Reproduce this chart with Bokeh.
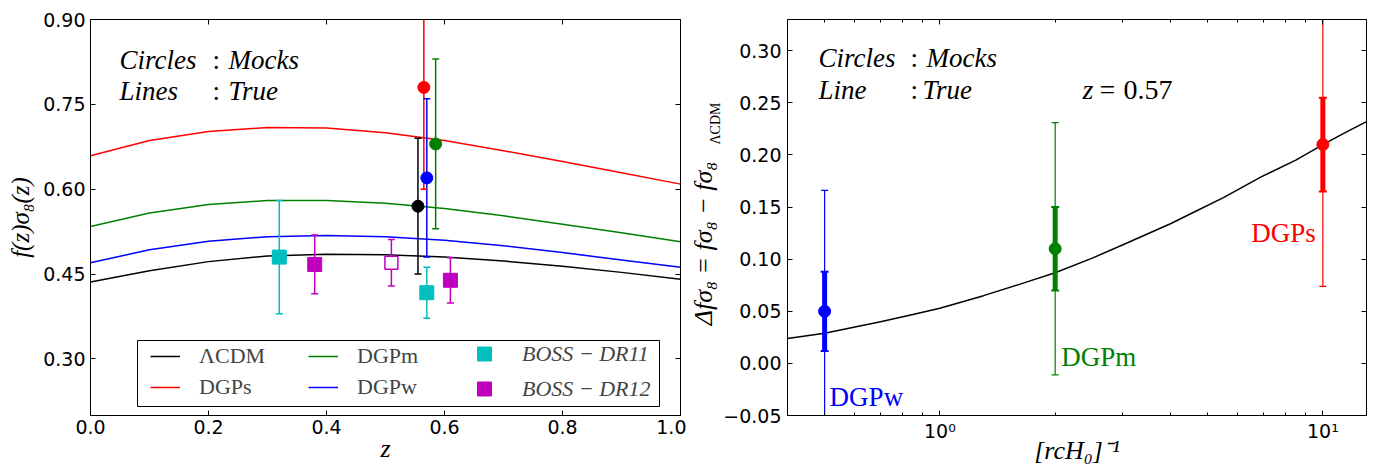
import math
from bokeh.plotting import figure
from bokeh.models import (Range1d, FixedTicker, CustomJSTickFormatter, LinearAxis, LogAxis,
                          Label, Legend, LegendItem, BoxAnnotation, Title)
from bokeh.layouts import row
from bokeh.embed import file_html
from bokeh.resources import INLINE

# ---------------- data: left panel ----------------
z_grid = [0.0, 0.1, 0.2, 0.3, 0.4, 0.5, 0.6, 0.7, 0.8, 0.9, 1.0]
fs8_lcdm = [0.436, 0.456, 0.472, 0.482, 0.485, 0.484, 0.480, 0.473, 0.464, 0.453, 0.441]
fs8_dgps = [0.659, 0.686, 0.702, 0.709, 0.708, 0.700, 0.686, 0.668, 0.649, 0.629, 0.609]
fs8_dgpm = [0.534, 0.558, 0.573, 0.580, 0.580, 0.575, 0.566, 0.553, 0.538, 0.523, 0.507]
fs8_dgpw = [0.470, 0.493, 0.508, 0.516, 0.518, 0.516, 0.510, 0.500, 0.488, 0.475, 0.462]

mock_names = ["ΛCDM", "DGPs", "DGPw", "DGPm"]
mock_z = [0.555, 0.565, 0.570, 0.585]
mock_fs8 = [0.57, 0.78, 0.62, 0.68]
mock_err = [0.12, 0.18, 0.14, 0.15]

dr11_z = [0.32, 0.57]
dr11_fs8 = [0.480, 0.417]
dr11_err = [0.100, 0.045]

dr12_z = [0.38, 0.51, 0.61]
dr12_fs8 = [0.467, 0.470, 0.439]
dr12_err = [0.052, 0.041, 0.040]
dr12_open = [False, True, False]

x1_ticks = [0.0, 0.2, 0.4, 0.6, 0.8, 1.0]
y1_ticks = [0.30, 0.45, 0.60, 0.75, 0.90]

# ---------------- data: right panel ----------------
rc_inv = [0.5, 2.0, 10.0]
dfs8 = [0.05, 0.11, 0.21]
dfs8_err_wide = [0.116, 0.121, 0.136]
dfs8_err_narrow = [0.038, 0.040, 0.045]
model_names = ["DGPw", "DGPm", "DGPs"]

curve_x = [0.4, 0.5, 0.6, 0.7, 0.85, 1.0, 1.3, 1.65, 2.0, 2.5, 3.1, 4.0, 4.6, 5.5, 6.9, 8.5,
           10.0, 11.5, 13.0]
curve_y = [0.024, 0.029, 0.035, 0.040, 0.047, 0.053, 0.065, 0.077, 0.087, 0.101, 0.116, 0.134,
           0.145, 0.159, 0.179, 0.195, 0.210, 0.222, 0.232]

x2_major = [1.0, 10.0]
x2_minor = [0.4, 0.5, 0.6, 0.7, 0.8, 0.9, 2, 3, 4, 5, 6, 7, 8, 9]
y2_ticks = [-0.05, 0.0, 0.05, 0.10, 0.15, 0.20, 0.25, 0.30]

# ---------------- style ----------------
SERIF = "Liberation Serif"
SANS = "DejaVu Sans"
TICK = "19px"
BLACK, RED, GREEN, BLUE = "#000000", "#FF0000", "#008000", "#0000FF"
CYAN, MAG = "#00BFBF", "#BF00BF"
mock_colors = [BLACK, RED, BLUE, GREEN]
model_colors = [BLUE, GREEN, RED]


def fmt(decimals):
    return CustomJSTickFormatter(code="return tick.toFixed(%d).replace('-', '\\u2212');" % decimals)


def blank():
    return CustomJSTickFormatter(code="return '';")


def style_axis(ax, standoff):
    ax.major_tick_in = 5
    ax.major_tick_out = 0
    ax.minor_tick_in = 3
    ax.minor_tick_out = 0
    ax.axis_line_color = "black"
    ax.major_tick_line_color = "black"
    ax.major_label_text_font = SANS
    ax.major_label_text_font_size = TICK
    ax.major_label_text_color = "black"
    ax.major_label_standoff = standoff
    ax.axis_label_text_font = SERIF
    ax.axis_label_text_font_size = "26px"
    ax.axis_label_text_font_style = "italic"
    ax.axis_label_text_color = "black"


def lab(p, x, y, text, size="26px", style="italic", color="black", align="left"):
    p.add_layout(Label(x=x, y=y, x_units="screen", y_units="screen", text=text, text_font=SERIF,
                       text_font_size=size, text_font_style=style, text_color=color,
                       text_align=align, text_baseline="alphabetic"))


# ================= left figure =================
p1 = figure(width=686, height=472, x_range=Range1d(0, 1), y_range=Range1d(0.2, 0.9),
            output_backend="svg", toolbar_location=None,
            min_border_left=90, min_border_right=6, min_border_top=19, min_border_bottom=57)
p1.grid.visible = False
p1.outline_line_color = "black"
p1.outline_line_alpha = 1.0

xa = p1.xaxis[0]
xa.ticker = FixedTicker(ticks=x1_ticks)
xa.formatter = fmt(1)
style_axis(xa, 4)
xa.minor_tick_line_color = None
xa.axis_label = "z"
xa.axis_label_standoff = -3
ya = p1.yaxis[0]
ya.ticker = FixedTicker(ticks=y1_ticks)
ya.formatter = fmt(2)
style_axis(ya, 5)
ya.minor_tick_line_color = None
ya.axis_label = "f(z)σ₈(z)"
ya.axis_label_text_font_size = "25px"
ya.axis_label_standoff = 6

top1 = LinearAxis(ticker=FixedTicker(ticks=x1_ticks), formatter=blank())
style_axis(top1, 0)
top1.major_label_text_font_size = "0px"
top1.minor_tick_line_color = None
p1.add_layout(top1, "above")
right1 = LinearAxis(ticker=FixedTicker(ticks=y1_ticks), formatter=blank())
style_axis(right1, 0)
right1.major_label_text_font_size = "0px"
right1.minor_tick_line_color = None
p1.add_layout(right1, "right")

r_lcdm = p1.line(z_grid, fs8_lcdm, line_color=BLACK, line_width=1.5)
r_dgps = p1.line(z_grid, fs8_dgps, line_color=RED, line_width=1.5)
r_dgpm = p1.line(z_grid, fs8_dgpm, line_color=GREEN, line_width=1.5)
r_dgpw = p1.line(z_grid, fs8_dgpw, line_color=BLUE, line_width=1.5)

# BOSS error bars and squares
for zs, vals, errs, col in [(dr11_z, dr11_fs8, dr11_err, CYAN), (dr12_z, dr12_fs8, dr12_err, MAG)]:
    lo = [v - e for v, e in zip(vals, errs)]
    hi = [v + e for v, e in zip(vals, errs)]
    p1.segment(x0=zs, y0=lo, x1=zs, y1=hi, line_color=col, line_width=1.5)
    p1.scatter(x=zs + zs, y=lo + hi, marker="dash", size=7, line_color=col, line_width=1.5)

r_dr11 = p1.scatter(dr11_z, dr11_fs8, marker="square", size=14, fill_color=CYAN, line_color=CYAN)
dr12_fz = [z for z, o in zip(dr12_z, dr12_open) if not o]
dr12_fv = [v for v, o in zip(dr12_fs8, dr12_open) if not o]
dr12_oz = [z for z, o in zip(dr12_z, dr12_open) if o]
dr12_ov = [v for v, o in zip(dr12_fs8, dr12_open) if o]
r_dr12 = p1.scatter(dr12_fz, dr12_fv, marker="square", size=14, fill_color=MAG, line_color=MAG)
p1.scatter(dr12_oz, dr12_ov, marker="square", size=13, fill_color="white", line_color=MAG,
           line_width=1.5)

# mock points
m_lo = [v - e for v, e in zip(mock_fs8, mock_err)]
m_hi = [v + e for v, e in zip(mock_fs8, mock_err)]
p1.segment(x0=mock_z, y0=m_lo, x1=mock_z, y1=m_hi, line_color=mock_colors, line_width=1.5)
p1.scatter(x=mock_z + mock_z, y=m_lo + m_hi, marker="dash", size=7,
           line_color=mock_colors + mock_colors, line_width=1.5)
p1.scatter(mock_z, mock_fs8, size=12, fill_color=mock_colors, line_color=mock_colors)

# texts (frame-relative screen px)
lab(p1, 29, 356, "Circles", size="27px")
lab(p1, 122, 356, ":", style="normal", size="27px")
lab(p1, 138, 356, "Mocks", size="27px")
lab(p1, 29, 325, "Lines", size="27px")
lab(p1, 122, 325, ":", style="normal", size="27px")
lab(p1, 138, 325, "True", size="27px")

# legend
box = BoxAnnotation(left=47, right=569, bottom=9, top=75, left_units="screen", right_units="screen",
                    top_units="screen", bottom_units="screen", fill_color="white", fill_alpha=1.0,
                    line_color="black", line_width=1, line_alpha=1.0)
p1.add_layout(box)
leg1 = Legend(items=[LegendItem(label="ΛCDM", renderers=[r_lcdm]),
                     LegendItem(label="DGPs", renderers=[r_dgps]),
                     LegendItem(label="DGPm", renderers=[r_dgpm]),
                     LegendItem(label="DGPw", renderers=[r_dgpw])],
              location=(60, 15), orientation="vertical", nrows=2,
              glyph_width=30, glyph_height=20, label_standoff=19, label_width=104, spacing=5,
              padding=0, margin=0, border_line_color=None, background_fill_alpha=0,
              label_text_font=SERIF, label_text_font_size="22px")
leg2 = Legend(items=[LegendItem(label="BOSS − DR11", renderers=[r_dr11]),
                     LegendItem(label="BOSS − DR12", renderers=[r_dr12])],
              location=(372, 9), orientation="vertical", nrows=2,
              glyph_width=44, glyph_height=35, label_standoff=16, spacing=-5,
              padding=0, margin=0, border_line_color=None, background_fill_alpha=0,
              label_text_font=SERIF, label_text_font_size="22px", label_text_font_style="italic")
p1.add_layout(leg1)
p1.add_layout(leg2)

# ================= right figure =================
p2 = figure(width=689, height=472, x_axis_type="log", x_range=Range1d(0.4, 13),
            y_range=Range1d(-0.05, 0.33), output_backend="svg", toolbar_location=None,
            min_border_left=100, min_border_right=9, min_border_top=19, min_border_bottom=56)
p2.grid.visible = False
p2.outline_line_color = "black"

log_fmt = CustomJSTickFormatter(code="""
const e = Math.round(Math.log10(tick));
const sup = {'0':'\\u2070','1':'\\u00b9','2':'\\u00b2','3':'\\u00b3','-':'\\u207b'};
return '10' + String(e).split('').map(c => sup[c] || c).join('');
""")
xb = p2.xaxis[0]
xb.ticker = FixedTicker(ticks=x2_major, minor_ticks=x2_minor)
xb.formatter = log_fmt
style_axis(xb, 4)
xb.axis_label = "[rcH₀]⁻¹"
xb.axis_label_standoff = -9
yb = p2.yaxis[0]
yb.ticker = FixedTicker(ticks=y2_ticks)
yb.formatter = fmt(2)
style_axis(yb, 6)
yb.minor_tick_line_color = None
yb.axis_label = "Δfσ₈ = fσ₈ − fσ₈" + "\u00a0" * 8
yb.axis_label_standoff = 2

p2.add_layout(Title(text="ΛCDM", align="right", offset=83, standoff=-72,
                    text_font=SERIF, text_font_size="14px", text_font_style="normal",
                    text_color="black"), "left")

top2 = LogAxis(ticker=FixedTicker(ticks=x2_major, minor_ticks=x2_minor), formatter=blank())
style_axis(top2, 0)
top2.major_label_text_font_size = "0px"
p2.add_layout(top2, "above")
right2 = LinearAxis(ticker=FixedTicker(ticks=y2_ticks), formatter=blank())
style_axis(right2, 0)
right2.major_label_text_font_size = "0px"
right2.minor_tick_line_color = None
p2.add_layout(right2, "right")

p2.line(curve_x, curve_y, line_color=BLACK, line_width=1.5)

w_lo = [v - e for v, e in zip(dfs8, dfs8_err_wide)]
w_hi = [v + e for v, e in zip(dfs8, dfs8_err_wide)]
n_lo = [v - e for v, e in zip(dfs8, dfs8_err_narrow)]
n_hi = [v + e for v, e in zip(dfs8, dfs8_err_narrow)]
p2.segment(x0=rc_inv, y0=w_lo, x1=rc_inv, y1=w_hi, line_color=model_colors, line_width=1.2)
p2.scatter(x=rc_inv + rc_inv, y=w_lo + w_hi, marker="dash", size=7,
           line_color=model_colors + model_colors, line_width=1.2)
p2.segment(x0=rc_inv, y0=n_lo, x1=rc_inv, y1=n_hi, line_color=model_colors, line_width=5)
p2.scatter(x=rc_inv + rc_inv, y=n_lo + n_hi, marker="dash", size=8,
           line_color=model_colors + model_colors, line_width=2)
p2.scatter(rc_inv, dfs8, size=12, fill_color=model_colors, line_color=model_colors)

# model name labels (data position with pixel offsets)
p2.add_layout(Label(x=rc_inv[0], y=-0.032, x_offset=5, text=model_names[0], text_font=SERIF,
                    text_font_size="27px", text_color=BLUE, text_baseline="alphabetic"))
p2.add_layout(Label(x=rc_inv[1], y=0.006, x_offset=6, text=model_names[1], text_font=SERIF,
                    text_font_size="27px", text_color=GREEN, text_baseline="alphabetic"))
p2.add_layout(Label(x=rc_inv[2], y=0.125, x_offset=-7, text=model_names[2], text_font=SERIF,
                    text_font_size="27px", text_color=RED, text_baseline="alphabetic",
                    text_align="right"))

lab(p2, 31, 358, "Circles", size="27px")
lab(p2, 123, 358, ":", style="normal", size="27px")
lab(p2, 139, 358, "Mocks", size="27px")
lab(p2, 31, 326, "Line", size="27px")
lab(p2, 123, 326, ":", style="normal", size="27px")
lab(p2, 135, 326, "True", size="27px")
lab(p2, 295, 326, "z", size="28px")
lab(p2, 312, 326, "=", size="28px", style="normal")
lab(p2, 336, 326, "0.57", size="28px", style="normal")

layout = row(p1, p2, spacing=0)
open("out.html", "w").write(file_html(layout, INLINE))
